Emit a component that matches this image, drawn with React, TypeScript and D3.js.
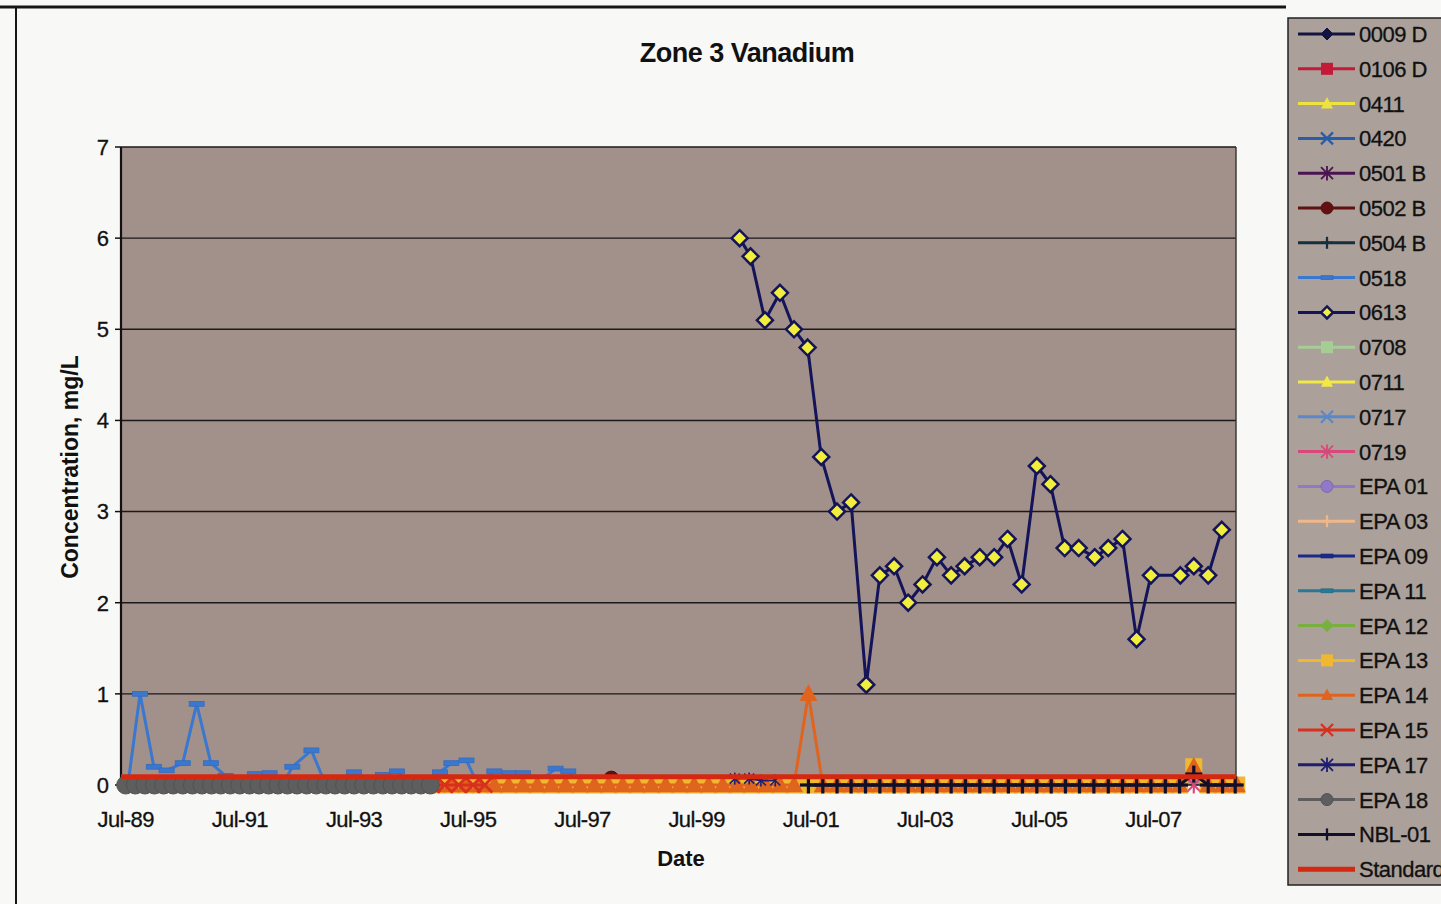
import React from "react";
import * as d3 from "d3";

const FONT = "'Liberation Sans', Arial, Helvetica, sans-serif";

// ---------- data ----------
const TITLE = "Zone 3 Vanadium";
const Y_TICKS = [0, 1, 2, 3, 4, 5, 6, 7];
const X_TICK_LABELS = ["Jul-89", "Jul-91", "Jul-93", "Jul-95", "Jul-97", "Jul-99", "Jul-01", "Jul-03", "Jul-05", "Jul-07"];

const DATES_0613 = [
  "2000-04-01", "2000-06-10", "2000-09-10", "2000-12-15", "2001-03-15", "2001-06-10", "2001-09-05", "2001-12-15",
  "2002-03-15", "2002-06-20", "2002-09-15", "2002-12-15", "2003-03-15", "2003-06-15", "2003-09-15", "2003-12-15",
  "2004-03-10", "2004-06-15", "2004-09-15", "2004-12-10", "2005-03-10", "2005-06-15", "2005-09-10", "2005-12-10",
  "2006-03-10", "2006-06-20", "2006-09-15", "2006-12-15", "2007-03-15", "2007-06-15", "2007-12-20", "2008-03-15",
  "2008-06-15", "2008-09-10",
];
const VALUES_0613 = [
  6.0, 5.8, 5.1, 5.4, 5.0, 4.8, 3.6, 3.0,
  3.1, 1.1, 2.3, 2.4, 2.0, 2.2, 2.5, 2.3,
  2.4, 2.5, 2.5, 2.7, 2.2, 3.5, 3.3, 2.6,
  2.6, 2.5, 2.6, 2.7, 1.6, 2.3, 2.3, 2.4,
  2.3, 2.8,
];

const DATES_0518 = [
  "1989-07-15", "1989-10-01", "1989-12-28", "1990-03-20", "1990-07-01", "1990-09-28", "1990-12-28", "1991-04-01",
  "1991-07-01", "1991-10-05", "1992-01-08", "1992-04-01", "1992-06-01", "1992-10-01", "1993-01-01", "1993-04-01",
  "1993-07-01", "1993-10-01", "1994-01-01", "1994-04-01", "1994-07-01", "1994-10-01", "1995-01-01", "1995-03-15",
  "1995-06-20", "1995-09-01", "1995-12-15", "1996-03-20", "1996-06-15", "1996-09-01", "1997-01-10", "1997-04-01",
  "1997-07-01",
];
const VALUES_0518 = [
  0, 1.0, 0.2, 0.16, 0.24, 0.89, 0.24, 0.1,
  0, 0.12, 0.13, 0, 0.2, 0.38, 0, 0,
  0.14, 0, 0.11, 0.15, 0, 0, 0.14, 0.24,
  0.27, 0, 0.15, 0.13, 0.13, 0, 0.18, 0.15,
  0,
];

const DATES_0502B = ["1998-01-01"];
const VALUES_0502B = [0.07];

const DATES_0719 = ["2008-03-15"];
const VALUES_0719 = [0];

const DATES_EPA18 = (
  "1989-07-01 1989-09-01 1989-11-01 1990-01-01 1990-03-01 1990-05-01 1990-07-01 1990-09-01 1990-11-01 " +
  "1991-01-01 1991-03-01 1991-05-01 1991-07-01 1991-09-01 1991-11-01 1992-01-01 1992-03-01 1992-05-01 " +
  "1992-07-01 1992-09-01 1992-11-01 1993-01-01 1993-03-01 1993-05-01 1993-07-01 1993-09-01 1993-11-01 " +
  "1994-01-01 1994-03-01 1994-05-01 1994-07-01 1994-09-01 1994-11-01"
).split(" ");
const VALUES_EPA18 = [
  0, 0, 0, 0, 0, 0, 0, 0, 0,
  0, 0, 0, 0, 0, 0, 0, 0, 0,
  0, 0, 0, 0, 0, 0, 0, 0, 0,
  0, 0, 0, 0, 0, 0,
];

const DATES_EPA15 = ["1994-11-15", "1995-02-01", "1995-05-01", "1995-08-01", "1995-10-15"];
const VALUES_EPA15 = [0, 0, 0, 0, 0];

const DATES_EPA17 = ["2000-03-01", "2000-06-01", "2000-08-15", "2000-11-15"];
const VALUES_EPA17 = [0.07, 0.07, 0.05, 0.05];

const DATES_EPA13_14 = (
  "1994-12-15 " +
  "1995-03-15 1995-06-15 1995-09-15 1995-12-15 1996-03-15 1996-06-15 1996-09-15 1996-12-15 " +
  "1997-03-15 1997-06-15 1997-09-15 1997-12-15 1998-03-15 1998-06-15 1998-09-15 1998-12-15 " +
  "1999-03-15 1999-06-15 1999-09-15 1999-12-15 2000-03-15 2000-06-15 2000-09-15 2000-12-15 " +
  "2001-03-15 2001-06-15 2001-09-15 2001-12-15 2002-03-15 2002-06-15 2002-09-15 2002-12-15 " +
  "2003-03-15 2003-06-15 2003-09-15 2003-12-15 2004-03-15 2004-06-15 2004-09-15 2004-12-15 " +
  "2005-03-15 2005-06-15 2005-09-15 2005-12-15 2006-03-15 2006-06-15 2006-09-15 2006-12-15 " +
  "2007-03-15 2007-06-15 2007-09-15 2007-12-15 2008-03-15 2008-06-15 2008-09-15 2008-12-15"
).split(" ");
const VALUES_EPA13 = [
  0,
  0, 0, 0, 0, 0, 0, 0, 0, // 1995-1996
  0, 0, 0, 0, 0, 0, 0, 0, // 1997-1998
  0, 0, 0, 0, 0, 0, 0, 0, // 1999-2000
  0, 0, 0, 0, 0, 0, 0, 0, // 2001-2002
  0, 0, 0, 0, 0, 0, 0, 0, // 2003-2004
  0, 0, 0, 0, 0, 0, 0, 0, // 2005-2006
  0, 0, 0, 0, 0.2, 0, 0, 0, // 2007-2008
];
const VALUES_EPA14 = [
  0,
  0, 0, 0, 0, 0, 0, 0, 0,
  0, 0, 0, 0, 0, 0, 0, 0,
  0, 0, 0, 0, 0, 0, 0, 0,
  0, 1.0, 0, 0, 0, 0, 0, 0,
  0, 0, 0, 0, 0, 0, 0, 0,
  0, 0, 0, 0, 0, 0, 0, 0,
  0, 0, 0, 0, 0.2, 0, 0, 0,
];

const DATES_NBL01 = (
  "2001-06-15 2001-09-15 2001-12-15 " +
  "2002-03-15 2002-06-15 2002-09-15 2002-12-15 2003-03-15 2003-06-15 2003-09-15 2003-12-15 " +
  "2004-03-15 2004-06-15 2004-09-15 2004-12-15 2005-03-15 2005-06-15 2005-09-15 2005-12-15 " +
  "2006-03-15 2006-06-15 2006-09-15 2006-12-15 2007-03-15 2007-06-15 2007-09-15 2007-12-15 " +
  "2008-03-15 2008-06-15 2008-09-15 2008-12-05"
).split(" ");
const VALUES_NBL01 = [
  0, 0, 0,
  0, 0, 0, 0, 0, 0, 0, 0,
  0, 0, 0, 0, 0, 0, 0, 0,
  0, 0, 0, 0, 0, 0, 0, 0,
  0.12, 0, 0, 0,
];

const DATES_STANDARD = ["1989-06-01", "2008-12-10"];
const VALUES_STANDARD = [0.09, 0.09];

const SERIES_NAMES = [
  "0009 D", "0106 D", "0411", "0420", "0501 B", "0502 B", "0504 B", "0518", "0613", "0708", "0711", "0717", "0719",
  "EPA 01", "EPA 03", "EPA 09", "EPA 11", "EPA 12", "EPA 13", "EPA 14", "EPA 15", "EPA 17", "EPA 18", "NBL-01", "Standard",
];

// ---------- styles ----------
type MarkerType = "diamond" | "square" | "triangle" | "x" | "asterisk" | "circle" | "plus" | "dash" | "none";
interface Style {
  color: string;
  marker: MarkerType;
  fill?: string;
}
const STYLES: Record<string, Style> = {
  "0009 D": { color: "#141440", marker: "diamond" },
  "0106 D": { color: "#C41A3A", marker: "square" },
  "0411": { color: "#EEE23E", marker: "triangle" },
  "0420": { color: "#2A5CA8", marker: "x" },
  "0501 B": { color: "#4A1450", marker: "asterisk" },
  "0502 B": { color: "#621010", marker: "circle" },
  "0504 B": { color: "#16303E", marker: "plus" },
  "0518": { color: "#3A78D0", marker: "dash" },
  "0613": { color: "#14145A", marker: "diamond", fill: "#F2EE3E" },
  "0708": { color: "#A6CE94", marker: "square" },
  "0711": { color: "#F2E846", marker: "triangle" },
  "0717": { color: "#5A88C8", marker: "x" },
  "0719": { color: "#D8487A", marker: "asterisk" },
  "EPA 01": { color: "#9478C8", marker: "circle" },
  "EPA 03": { color: "#F0B888", marker: "plus" },
  "EPA 09": { color: "#1A2888", marker: "dash" },
  "EPA 11": { color: "#287898", marker: "dash" },
  "EPA 12": { color: "#78B040", marker: "diamond" },
  "EPA 13": { color: "#F0B830", marker: "square" },
  "EPA 14": { color: "#E0641E", marker: "triangle" },
  "EPA 15": { color: "#D8301E", marker: "x" },
  "EPA 17": { color: "#1E1E70", marker: "asterisk" },
  "EPA 18": { color: "#5E5E5E", marker: "circle" },
  "NBL-01": { color: "#10102A", marker: "plus" },
  "Standard": { color: "#D42810", marker: "none" },
};

const parseDate = d3.timeParse("%Y-%m-%d");
const parseTick = d3.timeParse("%b-%y");

interface Series {
  name: string;
  dates: string[];
  values: number[];
  size: number;
  lw: number;
}
const PLOT_SERIES: Series[] = [
  { name: "0502 B", dates: DATES_0502B, values: VALUES_0502B, size: 7.5, lw: 3 },
  { name: "0518", dates: DATES_0518, values: VALUES_0518, size: 7.5, lw: 3 },
  { name: "0613", dates: DATES_0613, values: VALUES_0613, size: 8, lw: 3 },
  { name: "0719", dates: DATES_0719, values: VALUES_0719, size: 7, lw: 2 },
  { name: "EPA 13", dates: DATES_EPA13_14, values: VALUES_EPA13, size: 8.5, lw: 3 },
  { name: "EPA 14", dates: DATES_EPA13_14, values: VALUES_EPA14, size: 9, lw: 3 },
  { name: "EPA 15", dates: DATES_EPA15, values: VALUES_EPA15, size: 7.5, lw: 3 },
  { name: "EPA 17", dates: DATES_EPA17, values: VALUES_EPA17, size: 5, lw: 2 },
  { name: "EPA 18", dates: DATES_EPA18, values: VALUES_EPA18, size: 9, lw: 3 },
  { name: "NBL-01", dates: DATES_NBL01, values: VALUES_NBL01, size: 8.5, lw: 3 },
  { name: "Standard", dates: DATES_STANDARD, values: VALUES_STANDARD, size: 0, lw: 5 },
];

function Marker({ type, x, y, s, color, fill }: { type: MarkerType; x: number; y: number; s: number; color: string; fill?: string }) {
  const sw = Math.max(2, s * 0.38);
  switch (type) {
    case "diamond":
      return <path d={`M${x},${y - s}L${x + s},${y}L${x},${y + s}L${x - s},${y}Z`} fill={fill ?? color} stroke={color} strokeWidth={fill ? 2.5 : 1} />;
    case "square":
      return <rect x={x - s} y={y - s} width={2 * s} height={2 * s} fill={color} />;
    case "triangle":
      return <path d={`M${x},${y - s * 1.1}L${x + s},${y + s * 0.8}L${x - s},${y + s * 0.8}Z`} fill={color} />;
    case "circle":
      return <circle cx={x} cy={y} r={s} fill={color} stroke={d3.color(color)!.darker(0.4).toString()} strokeWidth={1} />;
    case "x":
      return (
        <g stroke={color} strokeWidth={sw} strokeLinecap="butt">
          <line x1={x - s} y1={y - s} x2={x + s} y2={y + s} />
          <line x1={x - s} y1={y + s} x2={x + s} y2={y - s} />
        </g>
      );
    case "asterisk":
      return (
        <g stroke={color} strokeWidth={sw * 0.8}>
          <line x1={x - s} y1={y - s} x2={x + s} y2={y + s} />
          <line x1={x - s} y1={y + s} x2={x + s} y2={y - s} />
          <line x1={x} y1={y - s * 1.2} x2={x} y2={y + s * 1.2} />
        </g>
      );
    case "plus":
      return (
        <g stroke={color} strokeWidth={sw}>
          <line x1={x - s} y1={y} x2={x + s} y2={y} />
          <line x1={x} y1={y - s} x2={x} y2={y + s} />
        </g>
      );
    case "dash":
      return <rect x={x - s} y={y - s * 0.32} width={2 * s} height={s * 0.64} fill={color} stroke={d3.color(color)!.darker(0.3).toString()} strokeWidth={0.8} />;
    default:
      return null;
  }
}

export default function App() {
  const W = 1441, H = 904;
  const L = 121, R = 1236, T = 147, B = 785;
  const x = d3.scaleTime().domain([new Date(1989, 5, 1), new Date(2008, 11, 10)]).range([L, R]);
  const y = d3.scaleLinear().domain([0, 7]).range([B, T]);
  const line = d3.line<[Date, number]>().x((d) => x(d[0])).y((d) => y(d[1]));

  const legendX = 1288, legendY = 18, legendStep = 34.8;

  return (
    <div style={{ position: "absolute", left: 0, top: 0, width: W, height: H, overflow: "hidden" }}>
      <svg width={W} height={H} style={{ display: "block" }} fontFamily={FONT}>
        <rect x={0} y={0} width={W} height={H} fill="#F8F8F6" />
        {/* outer frame */}
        <line x1={0} y1={7} x2={1286} y2={7} stroke="#151515" strokeWidth={3} />
        <line x1={16} y1={7} x2={16} y2={H} stroke="#151515" strokeWidth={2} />

        {/* title */}
        <text x={747} y={62} textAnchor="middle" fontSize={27} fontWeight="bold" fill="#111" letterSpacing={-0.5}>{TITLE}</text>

        {/* plot area */}
        <rect x={L} y={T} width={R - L} height={B - T} fill="#A2908A" />
        {Y_TICKS.filter((t) => t > 0).map((t) => (
          <line key={t} x1={L} x2={R} y1={y(t)} y2={y(t)} stroke="#1A1A1A" strokeWidth={1.4} />
        ))}
        <line x1={R} x2={R} y1={T} y2={B} stroke="#333" strokeWidth={1.4} />
        <line x1={L} x2={L} y1={T} y2={B} stroke="#111" strokeWidth={2.2} />
        <line x1={L} x2={R} y1={B} y2={B} stroke="#111" strokeWidth={1.5} />
        {Y_TICKS.map((t) => (
          <g key={t}>
            <line x1={L - 6} x2={L} y1={y(t)} y2={y(t)} stroke="#111" strokeWidth={1.5} />
            <text x={109} y={y(t)} dy="0.36em" textAnchor="end" fontSize={22} fill="#111" stroke="#111" strokeWidth={0.3}>{t}</text>
          </g>
        ))}
        {X_TICK_LABELS.map((lab) => (
          <text key={lab} x={x(parseTick(lab)!)} y={827} textAnchor="middle" fontSize={22} fill="#111" stroke="#111" strokeWidth={0.3} letterSpacing={-0.6}>{lab}</text>
        ))}
        <text x={681} y={866} textAnchor="middle" fontSize={22} fontWeight="bold" fill="#111">Date</text>
        <text transform={`translate(78,467) rotate(-90)`} textAnchor="middle" fontSize={23} fontWeight="bold" fill="#111">Concentration, mg/L</text>

        {/* series */}
        {PLOT_SERIES.map((s) => {
          const st = STYLES[s.name];
          const pts: [Date, number][] = s.dates.map((d, i) => [parseDate(d)!, s.values[i]]);
          return (
            <g key={s.name}>
              <path d={line(pts)!} fill="none" stroke={st.color} strokeWidth={s.lw} strokeLinejoin="round" />
              {st.marker !== "none" && pts.map((p, i) => (
                <Marker key={i} type={st.marker} x={x(p[0])} y={y(p[1])} s={s.size} color={st.color} fill={st.fill} />
              ))}
            </g>
          );
        })}

        {/* legend */}
        <rect x={legendX} y={legendY} width={170} height={867} fill="#ABA09A" stroke="#222" strokeWidth={1.5} />
        {SERIES_NAMES.map((name, i) => {
          const st = STYLES[name];
          const cy = 34 + i * legendStep;
          return (
            <g key={name}>
              <line x1={1298} x2={1355} y1={cy} y2={cy} stroke={st.color} strokeWidth={name === "Standard" ? 5 : 3} />
              {st.marker !== "none" && (
                <Marker type={st.marker} x={1327} y={cy} s={6} color={st.color} fill={st.fill} />
              )}
              <text x={1359} y={cy} dy="0.36em" fontSize={22} fill="#111" stroke="#111" strokeWidth={0.3} letterSpacing={-0.5}>{name}</text>
            </g>
          );
        })}
      </svg>
    </div>
  );
}
